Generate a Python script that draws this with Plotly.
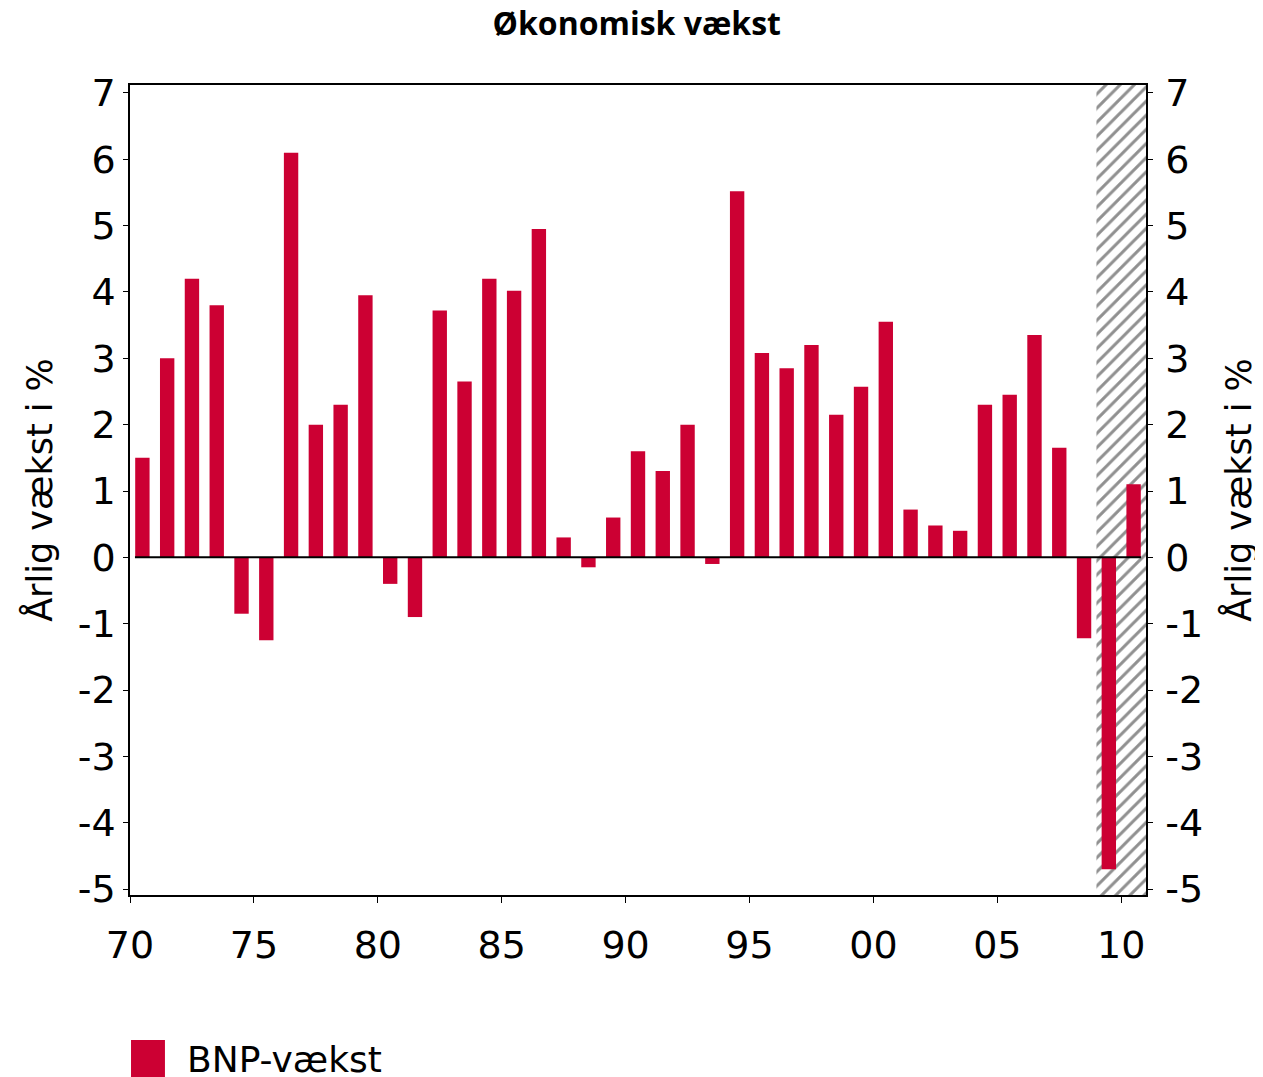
import plotly.graph_objects as go

years = list(range(1970, 2011))
bnp_vaekst = [1.5, 3.0, 4.2, 3.8, -0.85, -1.25, 6.1, 2.0, 2.3, 3.95,
              -0.4, -0.9, 3.72, 2.65, 4.2, 4.02, 4.95, 0.3, -0.15, 0.6,
              1.6, 1.3, 2.0, -0.1, 5.52, 3.08, 2.85, 3.2, 2.15, 2.57,
              3.55, 0.72, 0.48, 0.4, 2.3, 2.45, 3.35, 1.65, -1.22, -4.7, 1.1]

prognose_x = [2010]          # skraveret prognoseområde 2009-2011
prognose_bund = -5.09
prognose_top = 7.12

x_tick_vals = [1970, 1975, 1980, 1985, 1990, 1995, 2000, 2005, 2010]
x_tick_text = ["70", "75", "80", "85", "90", "95", "00", "05", "10"]
y_tick_vals = list(range(-5, 8))
y_tick_text = [str(v) for v in y_tick_vals]

RED = "#CC0033"
FONT = "DejaVu Sans"

fig = go.Figure()

# skravering
fig.add_trace(go.Bar(
    x=prognose_x, y=[prognose_top - prognose_bund], base=[prognose_bund],
    width=2, marker=dict(color="white", line=dict(width=0),
                         pattern=dict(shape="/", fgcolor="#222222", bgcolor="white",
                                      size=10, solidity=0.3)),
    showlegend=False, hoverinfo="skip",
))

# BNP-vækst
fig.add_trace(go.Bar(
    x=[y + 0.5 for y in years], y=bnp_vaekst, width=0.58,
    marker=dict(color=RED, line=dict(width=0)),
    name="BNP-vækst", showlegend=False,
))

# usynligt spor til højre akse
fig.add_trace(go.Scatter(
    x=[None], y=[None], yaxis="y2", showlegend=False, hoverinfo="skip",
))

yaxis_common = dict(
    range=[prognose_bund, prognose_top],
    tickvals=y_tick_vals, ticktext=y_tick_text,
    ticks="outside", ticklen=5, tickcolor="black",
    showline=True, linecolor="black", linewidth=1.5,
    showgrid=False, zeroline=False, automargin=False,
    tickfont=dict(family=FONT, size=38, color="black"),
    title=dict(text="Årlig vækst i %", font=dict(family=FONT, size=35, color="black")),
)

fig.update_layout(
    width=1255, height=1069,
    margin=dict(l=122, r=117, t=77, b=182),
    paper_bgcolor="white", plot_bgcolor="white",
    barmode="overlay",
    showlegend=False,
    title=dict(text="<b>Økonomisk vækst</b>", x=0.501, xanchor="center",
               y=0.985, yanchor="middle",
               font=dict(family="Open Sans", size=32, color="black")),
    xaxis=dict(
        range=[1970, 2011], tickvals=x_tick_vals, ticktext=x_tick_text,
        ticks="outside", ticklen=6, tickcolor="black", ticklabelstandoff=10,
        showline=True, linecolor="black", linewidth=1.5, mirror=True,
        showgrid=False, zeroline=False, automargin=False,
        tickfont=dict(family=FONT, size=38, color="black"),
    ),
    yaxis=yaxis_common,
    yaxis2=dict(yaxis_common, overlaying="y", side="right", ticklabelstandoff=5,
                title=dict(yaxis_common["title"], standoff=24)),
)

fig.add_shape(type="line", xref="x", yref="y", x0=1970.2, x1=2010.8, y0=0, y1=0,
              line=dict(color="black", width=2))

# legende
fig.add_shape(type="rect", xref="paper", yref="paper",
              x0=0.001, x1=0.0344, y0=-0.179, y1=-0.2247,
              fillcolor=RED, line=dict(width=0))
fig.add_annotation(text="BNP-vækst", xref="paper", yref="paper",
                   x=0.054, y=-0.2037, xanchor="left", yanchor="middle",
                   showarrow=False, font=dict(family=FONT, size=36, color="black"))

fig.write_html("out.html")
